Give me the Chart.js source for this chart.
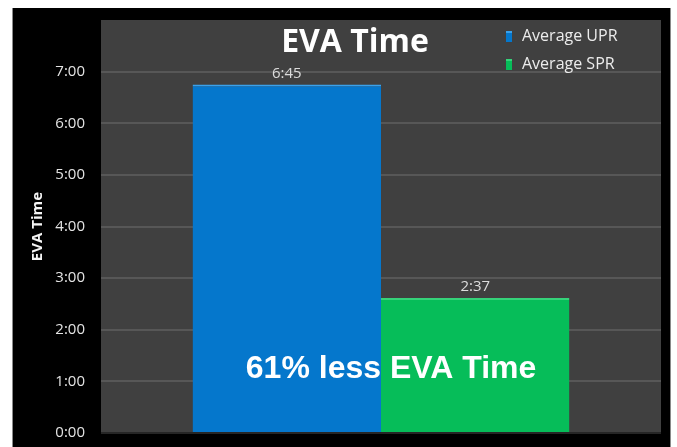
<!DOCTYPE html>
<html><head><meta charset="utf-8">
<script src="https://cdn.jsdelivr.net/npm/chart.js@4.4.1/dist/chart.umd.min.js"></script>
<style>
html,body{margin:0;padding:0;background:#fff;width:677px;height:447px;overflow:hidden}
#wrap{position:absolute;left:13px;top:8px;width:657px;height:439px;background:#000}
.edge{position:absolute;top:8px;width:1px;height:439px;background:#8a8a8a}
</style></head><body>
<div class="edge" style="left:12px"></div>
<div id="wrap"><canvas id="c"></canvas></div>
<div class="edge" style="left:670px"></div>
<script>
// ---- data ----
const categories = ['EVA Time'];
const seriesNames = ['Average UPR', 'Average SPR'];
const uprMinutes = [405];   // 6:45
const sprMinutes = [157];   // 2:37
const yTickMinutes = [0, 60, 120, 180, 240, 300, 360, 420];
const yTickLabels = ['0:00', '1:00', '2:00', '3:00', '4:00', '5:00', '6:00', '7:00'];
const chartTitle = 'EVA Time';
const yAxisTitle = 'EVA Time';
const annotationText = '61% less EVA Time';

const colors = ['#0577cc', '#06bd59'];
const topColors = ['#3aa2ec', '#35d37a'];

function fmt(m) {
  const h = Math.floor(m / 60), mm = Math.round(m % 60);
  return h + ':' + (mm < 10 ? '0' : '') + mm;
}

const deco = {
  id: 'deco',
  beforeDraw(chart) {
    const {ctx, chartArea: a} = chart;
    ctx.save();
    ctx.fillStyle = '#404040';
    ctx.fillRect(a.left, a.top, a.right - a.left, a.bottom - a.top);
    ctx.restore();
  },
  afterDatasetsDraw(chart) {
    const {ctx, chartArea: a} = chart;
    const w = a.right - a.left;
    ctx.save();
    // value labels
    ctx.fillStyle = '#dcdcdc';
    ctx.font = '15px "Open Sans"';
    ctx.textAlign = 'center';
    ctx.textBaseline = 'alphabetic';
    chart.data.datasets.forEach((ds, i) => {
      const meta = chart.getDatasetMeta(i);
      meta.data.forEach((el, j) => {
        ctx.fillText(fmt(ds.data[j]), el.x, el.y - 7);
      });
    });
    // annotation
    ctx.fillStyle = '#ffffff';
    ctx.font = 'bold 32px "Liberation Sans", Arial, sans-serif';
    ctx.fillText(annotationText, a.left + w * 0.518, a.bottom - 55);
    // title
    ctx.font = 'bold 32px "Open Sans"';
    ctx.fillText(chartTitle, a.left + w * 0.4536, a.top + 32);
    // legend
    ctx.textAlign = 'left';
    ctx.font = '16px "Open Sans"';
    const lx = a.right - 155;
    const rows = [a.top + 21, a.top + 49];
    chart.data.datasets.forEach((ds, i) => {
      const y = rows[i];
      ctx.fillStyle = colors[i];
      ctx.fillRect(lx, y - 10, 6, 11);
      ctx.fillStyle = topColors[i];
      ctx.fillRect(lx, y - 10, 6, 2);
      ctx.fillStyle = '#ececec';
      ctx.fillText(ds.label, lx + 16, y);
    });
    ctx.restore();
  }
};

new Chart(document.getElementById('c'), {
  type: 'bar',
  data: {
    labels: categories,
    datasets: [
      {label: seriesNames[0], data: uprMinutes, backgroundColor: colors[0],
       borderColor: topColors[0], borderWidth: {top: 2, left: 0, right: 0, bottom: 0}, borderSkipped: false},
      {label: seriesNames[1], data: sprMinutes, backgroundColor: colors[1],
       borderColor: topColors[1], borderWidth: {top: 2, left: 0, right: 0, bottom: 0}, borderSkipped: false}
    ]
  },
  options: {
    responsive: true,
    maintainAspectRatio: false,
    animation: false,
    layout: {padding: {top: 12, right: 9, bottom: 14, left: 0}},
    datasets: {bar: {categoryPercentage: 0.673, barPercentage: 1}},
    plugins: {legend: {display: false}, tooltip: {enabled: false}, title: {display: false}},
    scales: {
      x: {display: false},
      y: {
        min: 0, max: 480,
        afterFit(s) { s.width = 88; s.paddingTop = 0; s.paddingBottom = 0; },
        ticks: {
          stepSize: 60, padding: 16, color: '#e4e4e4',
          font: {family: 'Open Sans', size: 15},
          callback: v => { const k = yTickMinutes.indexOf(v); return k >= 0 ? yTickLabels[k] : ''; }
        },
        grid: {
          drawTicks: false, lineWidth: 2,
          color: c => c.tick.value === 0 ? '#262626' : (c.tick.value >= 480 ? 'rgba(0,0,0,0)' : '#575757')
        },
        border: {display: false},
        title: {display: true, text: yAxisTitle, color: '#f4f4f4',
                font: {family: 'Open Sans', size: 15, weight: 'bold'}, padding: {top: 16, bottom: 0}}
      }
    }
  },
  plugins: [deco]
});
</script>
</body></html>
